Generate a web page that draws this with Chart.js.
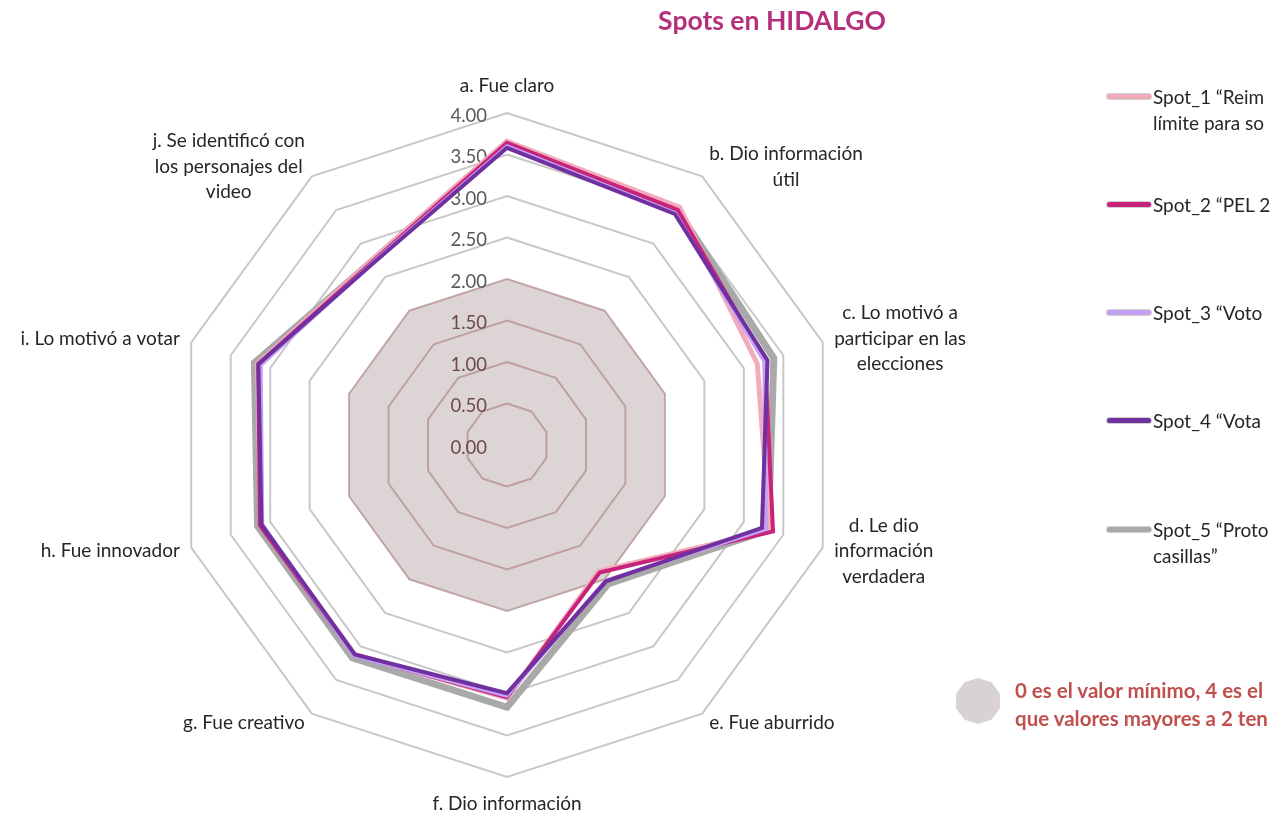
<!DOCTYPE html>
<html lang="es">
<head>
<meta charset="utf-8">
<title>Spots en HIDALGO</title>
<script src="https://cdn.jsdelivr.net/npm/chart.js@4.4.1/dist/chart.umd.min.js"></script>
<style>
  html, body { margin: 0; padding: 0; background: #fff; overflow: hidden; }
  #wrap { position: relative; width: 1271px; height: 821px; overflow: hidden; font-family: Lato, "Noto Sans", sans-serif; }
  #radar { position: absolute; left: 0; top: 0; }
  #title { position: absolute; left: 572px; top: 4px; width: 400px; text-align: center;
           font-weight: bold; font-size: 26.5px; color: #b5307a; }
  .item { position: absolute; left: 1105px; font-size: 19px; color: #262626; line-height: 26px; white-space: nowrap; }
  .item .sw { position: absolute; left: 2px; top: 10px; width: 44px; height: 5px; border-radius: 3px;
              box-shadow: 0 0 0 1px rgba(120,120,120,0.35); }
  .item .txt { margin-left: 48px; }
  #note { position: absolute; left: 955px; top: 676px; white-space: nowrap; }
  #note .dec { position: absolute; left: 0; top: 2px; width: 46px; height: 46px; background: #d9d2d3; }
  #note .txt { margin-left: 60px; font-weight: bold; font-size: 20.5px; line-height: 28px; color: #c0504d; }
</style>
</head>
<body>
<div id="wrap">
  <canvas id="radar" width="1271" height="821"></canvas>
  <div id="title">Spots en HIDALGO</div>
  <div id="legend"></div>
  <div id="note"><div class="dec"></div><div class="txt"></div></div>
</div>
<script>
// categories (multi-line point labels)
const categories = [
  ["a. Fue claro"],
  ["b. Dio información", "útil"],
  ["c. Lo motivó a", "participar en las", "elecciones"],
  ["d. Le dio", "información", "verdadera"],
  ["e. Fue aburrido"],
  ["f. Dio información"],
  ["g. Fue creativo"],
  ["h. Fue innovador"],
  ["i. Lo motivó a votar"],
  ["j. Se identificó con", "los personajes del", "video"],
];

// series values, one per category (a .. j)
const spot1 = [3.66, 3.54, 3.17, 3.33, 1.88, 3.05, 3.12, 3.12, 3.16, 2.76];
const spot2 = [3.64, 3.50, 3.27, 3.37, 1.90, 3.04, 3.13, 3.13, 3.15, 2.74];
const spot3 = [3.60, 3.45, 3.26, 3.28, 2.02, 3.02, 3.14, 3.10, 3.12, 2.73];
const spot4 = [3.58, 3.44, 3.30, 3.23, 2.03, 2.99, 3.12, 3.11, 3.15, 2.72];
const spot5 = [3.64, 3.50, 3.38, 3.31, 2.07, 3.16, 3.17, 3.16, 3.20, 2.75];
const referencia = [2, 2, 2, 2, 2, 2, 2, 2, 2, 2];

const seriesNames = [
  ["Spot_1 “Reim", "límite para so"],
  ["Spot_2 “PEL 2"],
  ["Spot_3 “Voto"],
  ["Spot_4 “Vota"],
  ["Spot_5 “Proto", "casillas”"],
];
const seriesColors = ["#f2abba", "#c8237b", "#c4a0f2", "#7030a0", "#a9a9a9"];
const seriesWidths = [5, 4, 4, 4, 7];
const seriesOrder = [5, 4, 3, 1, 6];

const tickValues = [0, 0.5, 1, 1.5, 2, 2.5, 3, 3.5, 4];
const noteLines = ["0 es el valor mínimo, 4 es el", "que valores mayores a 2 ten"];

const legendTops = [84, 192, 300, 408, 517];

// legend + note (html)
const legend = document.getElementById("legend");
seriesNames.forEach((lines, i) => {
  const d = document.createElement("div");
  d.className = "item";
  d.style.top = legendTops[i] + "px";
  d.innerHTML = '<div class="sw" style="background:' + seriesColors[i] + '"></div><div class="txt">' +
    lines.join("<br>") + "</div>";
  legend.appendChild(d);
});
document.querySelector("#note .txt").innerHTML = noteLines.join("<br>");
let pts = [];
for (let k = 0; k < 10; k++) {
  const a = (k / 10) * Math.PI * 2;
  pts.push((50 + 50 * Math.sin(a)).toFixed(1) + "% " + (50 - 50 * Math.cos(a)).toFixed(1) + "%");
}
document.querySelector("#note .dec").style.clipPath = "polygon(" + pts.join(",") + ")";

const REF = 5;

const radarText = {
  id: "radarText",
  afterDatasetDraw(chart, args) {
    if (args.index !== REF) return;
    const r = chart.scales.r;
    const ctx = chart.ctx;
    ctx.save();
    ctx.font = "18.5px Lato";
    ctx.textAlign = "right";
    ctx.textBaseline = "middle";
    tickValues.forEach((v) => {
      const y = r.yCenter - r.getDistanceFromCenterForValue(v);
      ctx.fillStyle = v >= 2 ? "#595959" : "#6e4a4a";
      ctx.fillText(v.toFixed(2), r.xCenter - 20, y + 3);
    });
    ctx.restore();
  },
  afterDatasetsDraw(chart) {
    const r = chart.scales.r;
    const ctx = chart.ctx;
    ctx.save();
    ctx.font = "19px Lato";
    ctx.fillStyle = "#262626";
    ctx.textAlign = "center";
    ctx.textBaseline = "middle";
    const lh = 25.5;
    categories.forEach((lines, i) => {
      const p = r.getPointPosition(i, r.drawingArea + 12);
      const a = p.angle + Math.PI / 2;
      const s = Math.sin(a), c = Math.cos(a);
      const w = Math.max(...lines.map((t) => ctx.measureText(t).width));
      const h = lines.length * lh;
      let cx, cy;
      if (Math.abs(s) < 0.05) {
        cx = p.x;
        cy = c > 0 ? p.y - h / 2 - 2 : p.y + h / 2 + 2;
      } else {
        cx = s > 0 ? p.x + w / 2 : p.x - w / 2;
        cy = p.y;
      }
      lines.forEach((t, k) => ctx.fillText(t, cx, cy - h / 2 + lh * (k + 0.5)));
    });
    ctx.restore();
  },
};

const spots = [spot1, spot2, spot3, spot4, spot5];
const datasets = spots.map((data, i) => ({
  label: seriesNames[i].join(" "),
  data: data,
  borderColor: seriesColors[i],
  borderWidth: seriesWidths[i],
  fill: false,
  pointRadius: 0,
  order: seriesOrder[i],
}));
datasets.push({
  label: "Referencia",
  data: referencia,
  backgroundColor: "rgba(178,160,162,0.45)",
  borderColor: "#c6a2a4",
  borderWidth: 1.5,
  fill: true,
  pointRadius: 0,
  order: 10,
});

const chart = new Chart(document.getElementById("radar"), {
  type: "radar",
  data: {
    labels: categories,
    datasets: datasets,
  },
  options: {
    responsive: false,
    animation: false,
    layout: { padding: { left: 175, right: 432, top: 113, bottom: 44 } },
    plugins: {
      legend: { display: false },
      title: { display: false },
      tooltip: { enabled: false },
    },
    scales: {
      r: {
        min: 0,
        max: 4,
        ticks: { stepSize: 0.5, display: false },
        pointLabels: { display: false },
        angleLines: { display: false },
        grid: {
          lineWidth: 2,
          color: (ctx) => (ctx.tick && ctx.tick.value < 2 ? "#c9a0a0" : "#c8c8c8"),
        },
      },
    },
  },
  plugins: [radarText],
});
</script>
</body>
</html>
